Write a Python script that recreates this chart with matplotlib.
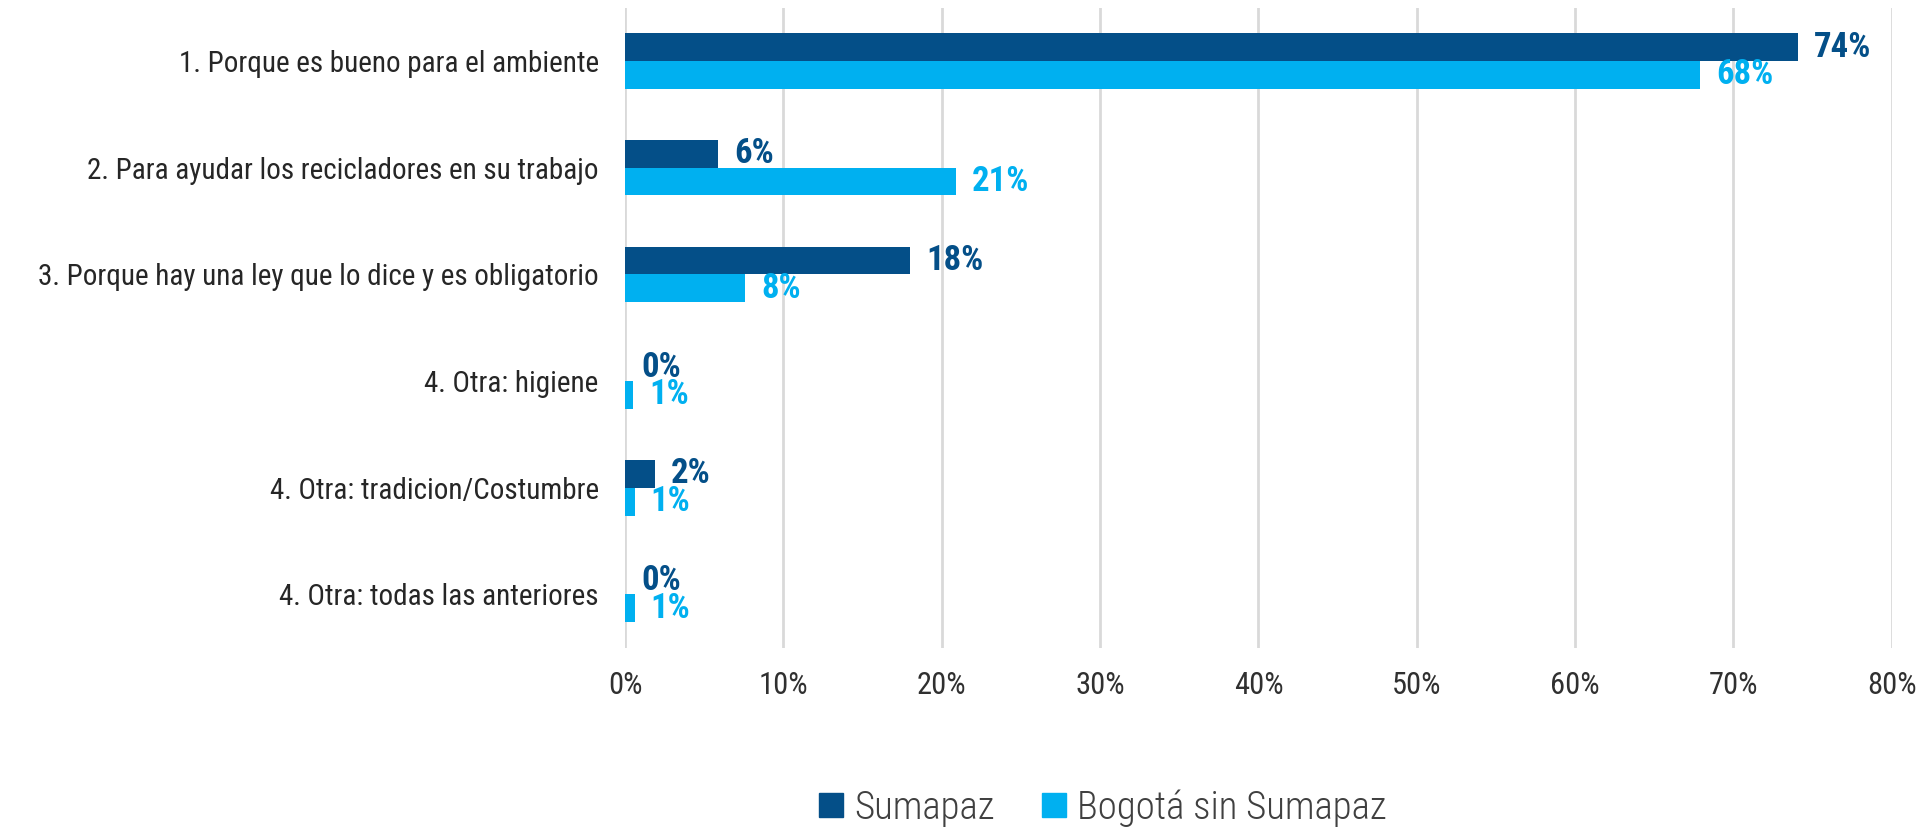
import numpy as np
import matplotlib.pyplot as plt
from matplotlib import font_manager
from matplotlib.patches import Patch

# --- datos ---
categorias = [
    "1. Porque es bueno para el ambiente",
    "2. Para ayudar los recicladores en su trabajo",
    "3. Porque hay una ley que lo dice y es obligatorio",
    "4. Otra: higiene",
    "4. Otra: tradicion/Costumbre",
    "4. Otra: todas las anteriores",
]
sumapaz = [74.1, 5.9, 18.0, 0.0, 1.9, 0.0]
bogota = [67.9, 20.9, 7.6, 0.5, 0.6, 0.6]
etiquetas_sumapaz = ["74%", "6%", "18%", "0%", "2%", "0%"]
etiquetas_bogota = ["68%", "21%", "8%", "1%", "1%", "1%"]
series = ["Sumapaz", "Bogotá sin Sumapaz"]

azul_oscuro = "#044F88"
azul_claro = "#00B0F0"

# fuente condensada si existe, si no Roboto
disponibles = set(f.name for f in font_manager.fontManager.ttflist)
fuente = "DejaVu Sans"
for cand in ["Roboto Condensed", "Open Sans Condensed", "Liberation Sans Narrow", "Roboto"]:
    if cand in disponibles:
        fuente = cand
        break
familia = [fuente, "DejaVu Sans"]

fig = plt.figure(figsize=(19.28, 8.32), dpi=100)
ax = fig.add_axes([0.3242, 0.2214, 0.657, 0.7693])

y = np.arange(len(categorias))
h = 0.26
ax.barh(y - h / 2, sumapaz, height=h, color=azul_oscuro, zorder=3)
ax.barh(y + h / 2, bogota, height=h, color=azul_claro, zorder=3)

# etiquetas de datos (16 px a la derecha del final de la barra)
off = 16 * 72 / 100
for i in range(len(categorias)):
    ax.annotate(etiquetas_sumapaz[i], (sumapaz[i], y[i] - h / 2), xytext=(off, 0),
                textcoords="offset points", va="center", ha="left",
                fontsize=25, fontweight="bold", color=azul_oscuro, family=familia, zorder=4)
    ax.annotate(etiquetas_bogota[i], (bogota[i], y[i] + h / 2), xytext=(off, 0),
                textcoords="offset points", va="center", ha="left",
                fontsize=25, fontweight="bold", color=azul_claro, family=familia, zorder=4)

ax.set_xlim(0, 80)
ax.set_ylim(len(categorias) - 0.5, -0.5)
ax.set_xticks(np.arange(0, 81, 10))
ax.set_xticklabels([f"{v}%" for v in range(0, 81, 10)], family=familia, fontsize=22, color="#303030")
ax.set_yticks(y)
ax.set_yticklabels(categorias, family=familia, fontsize=21, color="#262626")
ax.tick_params(axis="both", length=0)
ax.tick_params(axis="y", pad=19)
ax.tick_params(axis="x", pad=17)

ax.grid(axis="x", color="#D9D9D9", linewidth=2, zorder=0)
for s in ax.spines.values():
    s.set_visible(False)

handles = [Patch(color=azul_oscuro), Patch(color=azul_claro)]
fig.legend(handles, series, loc="center", bbox_to_anchor=(0.572, 0.029), ncol=2,
           frameon=False, prop={"family": familia, "size": 28, "weight": "light"},
           handlelength=0.62, handleheight=0.6, handletextpad=0.28, columnspacing=1.23,
           labelcolor="#404040")

fig.savefig("out.png", dpi=100)
